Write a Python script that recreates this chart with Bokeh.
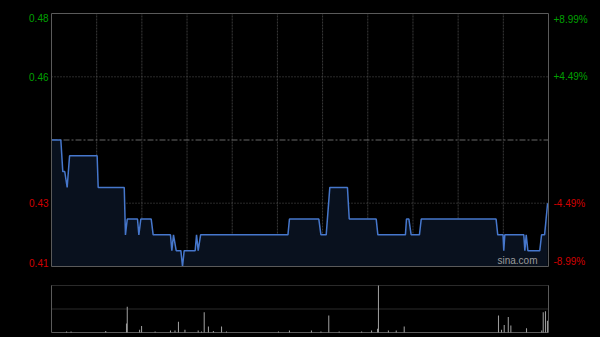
from bokeh.plotting import figure
from bokeh.models import Range1d, ColumnDataSource
from bokeh.core.properties import value
from bokeh.layouts import column
from bokeh.embed import file_html
from bokeh.resources import INLINE

# ---- data ----
prev_close = 0.445
session_minutes = 330  # 09:30-12:00, 13:00-16:00
grid_minutes = [30, 60, 90, 120, 150, 180, 210, 240, 270, 300]

line_minutes = [0, 6.2, 7.5, 8.8, 10.4, 12, 30.3, 31, 48.3, 49.1, 50.3, 57.1, 58, 59.3,
                66.2, 67.5, 79, 79.9, 81, 82.8, 85.9, 87, 88.1, 95.4, 96.3, 97.4, 99,
                157, 158, 177.5, 178.9, 182.4, 184.8, 196.5, 197.7, 215.6, 216.7, 235,
                235.7, 237.3, 238.8, 244.3, 245.5, 295.2, 296.3, 299.8, 300.3, 301,
                313.6, 314.3, 315.2, 316.3, 324.2, 325.4, 327.4, 329.4]
line_prices = [0.445, 0.445, 0.435, 0.435, 0.43, 0.44, 0.44, 0.43, 0.43, 0.415, 0.42, 0.42, 0.415, 0.42,
               0.42, 0.415, 0.415, 0.41, 0.415, 0.41, 0.41, 0.405, 0.41, 0.41, 0.415, 0.41, 0.415,
               0.415, 0.42, 0.42, 0.415, 0.415, 0.43, 0.43, 0.42, 0.42, 0.415, 0.415,
               0.42, 0.42, 0.415, 0.415, 0.42, 0.42, 0.415, 0.415, 0.41, 0.415,
               0.415, 0.41, 0.415, 0.41, 0.41, 0.415, 0.415, 0.425]

vol_minutes = [10, 13, 36, 49.8, 50.3, 58.5, 59.8, 68.8, 79, 82, 84.3, 88.6, 97.4, 99.6,
               101.4, 104.2, 107.5, 112.9, 116.2, 150.7, 158, 172.6, 178.9, 184.1, 191,
               205.9, 212.5, 216.5, 217.1, 223.7, 228.9, 234.2, 298.8, 296.8, 300.6, 303.3,
               305, 315.4, 325.5, 326.5, 328, 329.3]
vol_values = [2, 2, 3, 19, 55, 6, 14, 2, 4, 4, 23, 6, 4, 2,
              43, 13, 3, 13, 2, 2, 4, 4, 2, 36, 2,
              2, 4, 8, 100, 4, 4, 13, 6, 36, 16, 33,
              15, 9, 4, 43, 45, 25]

left_labels = ["0.48", "0.46", "0.43", "0.41"]
right_labels = ["+8.99%", "+4.49%", "-4.49%", "-8.99%"]
pct_levels = [0.0899, 0.0449, -0.0449, -0.0899]

# ---- geometry (pixels of the page) ----
W = 600
H1, H2 = 275, 62
PL, PR = 51, 548          # plot box left/right
PT, PB = 13, 266          # price box top/bottom
VT, VB = 10, 57           # volume box top/bottom inside its figure

y_top = prev_close * (1 + pct_levels[0])
y_bot = prev_close * (1 + pct_levels[3])

sx = session_minutes / (PR - PL)
x_start = -PL * sx
x_end = session_minutes + (W - PR) * sx
sy = (y_top - y_bot) / (PB - PT)
y_start = y_bot - (H1 - PB) * sy
y_end = y_top + PT * sy

GREEN = "#00a000"
RED = "#d00000"
FONT = value("Liberation Sans")
BORDER = "#5a5a5a"

p = figure(width=W, height=H1, output_backend="svg", toolbar_location=None,
           x_range=Range1d(x_start, x_end), y_range=Range1d(y_start, y_end),
           x_axis_type=None, y_axis_type=None,
           min_border=0, background_fill_color="#000000", border_fill_color="#000000",
           outline_line_color=None)
p.grid.visible = False

# vertical half-hour grid
p.segment(x0=grid_minutes, x1=grid_minutes, y0=[y_bot] * len(grid_minutes),
          y1=[y_top] * len(grid_minutes), line_color="#3a3a3a", line_width=1, line_dash="2 1")
# horizontal grid
hl = [prev_close * (1 + pct_levels[1]), prev_close * (1 + pct_levels[2])]
p.segment(x0=[0, 0], x1=[session_minutes] * 2, y0=hl, y1=hl,
          line_color="#555555", line_width=1, line_dash="1 2")
p.segment(x0=[0], x1=[session_minutes], y0=[prev_close], y1=[prev_close],
          line_color="#666666", line_width=1, line_dash="6 2 2 2")

src = ColumnDataSource(dict(x=line_minutes, y=line_prices, y0=[y_bot] * len(line_minutes)))
p.varea(x="x", y1="y0", y2="y", source=src, fill_color="#09111e", fill_alpha=1.0)
p.line(x="x", y="y", source=src, line_color="#4677cc", line_width=1.5)

# box border
p.quad(left=[0], right=[session_minutes], bottom=[y_bot], top=[y_top],
       fill_color=None, line_color=BORDER, line_width=1)

# axis labels
baselines = ["top", "middle", "middle", "bottom"]
for i, lv in enumerate(pct_levels):
    col = GREEN if lv > 0 else RED
    yy = prev_close * (1 + lv)
    p.text(x=[0], y=[yy], text=[left_labels[i]], x_offset=-3, text_align="right",
           text_baseline=baselines[i], text_color=col, text_font=FONT, text_font_size="10px")
    p.text(x=[session_minutes], y=[yy], text=[right_labels[i]], x_offset=5, text_align="left",
           text_baseline=baselines[i], text_color=col, text_font=FONT, text_font_size="10px")

p.text(x=[session_minutes], y=[y_bot], text=["sina.com"], x_offset=-11, y_offset=-1,
       text_align="right", text_baseline="bottom", text_color="#9a9a9a",
       text_font=FONT, text_font_size="10px")

# ---- volume panel ----
vmax = max(vol_values)
svy = vmax / (VB - VT)
v = figure(width=W, height=H2, output_backend="svg", toolbar_location=None,
           x_range=p.x_range, y_range=Range1d(-(H2 - VB) * svy, vmax + VT * svy),
           x_axis_type=None, y_axis_type=None,
           min_border=0, background_fill_color="#000000", border_fill_color="#000000",
           outline_line_color=None)
v.grid.visible = False
v.segment(x0=[0, 0], x1=[session_minutes] * 2, y0=[vmax, vmax / 2], y1=[vmax, vmax / 2],
          line_color="#555555", line_width=1, line_dash="1 1")
v.segment(x0=[0, 0, session_minutes], x1=[session_minutes, 0, session_minutes],
          y0=[0, 0, 0], y1=[0, vmax, vmax], line_color=BORDER, line_width=1)
v.vbar(x=vol_minutes, top=vol_values, width=0.7, bottom=0, fill_color="#9a9a9a",
       line_color=None)

layout = column(p, v, spacing=0, background="#000000")
open("out.html", "w").write(file_html(layout, INLINE))
